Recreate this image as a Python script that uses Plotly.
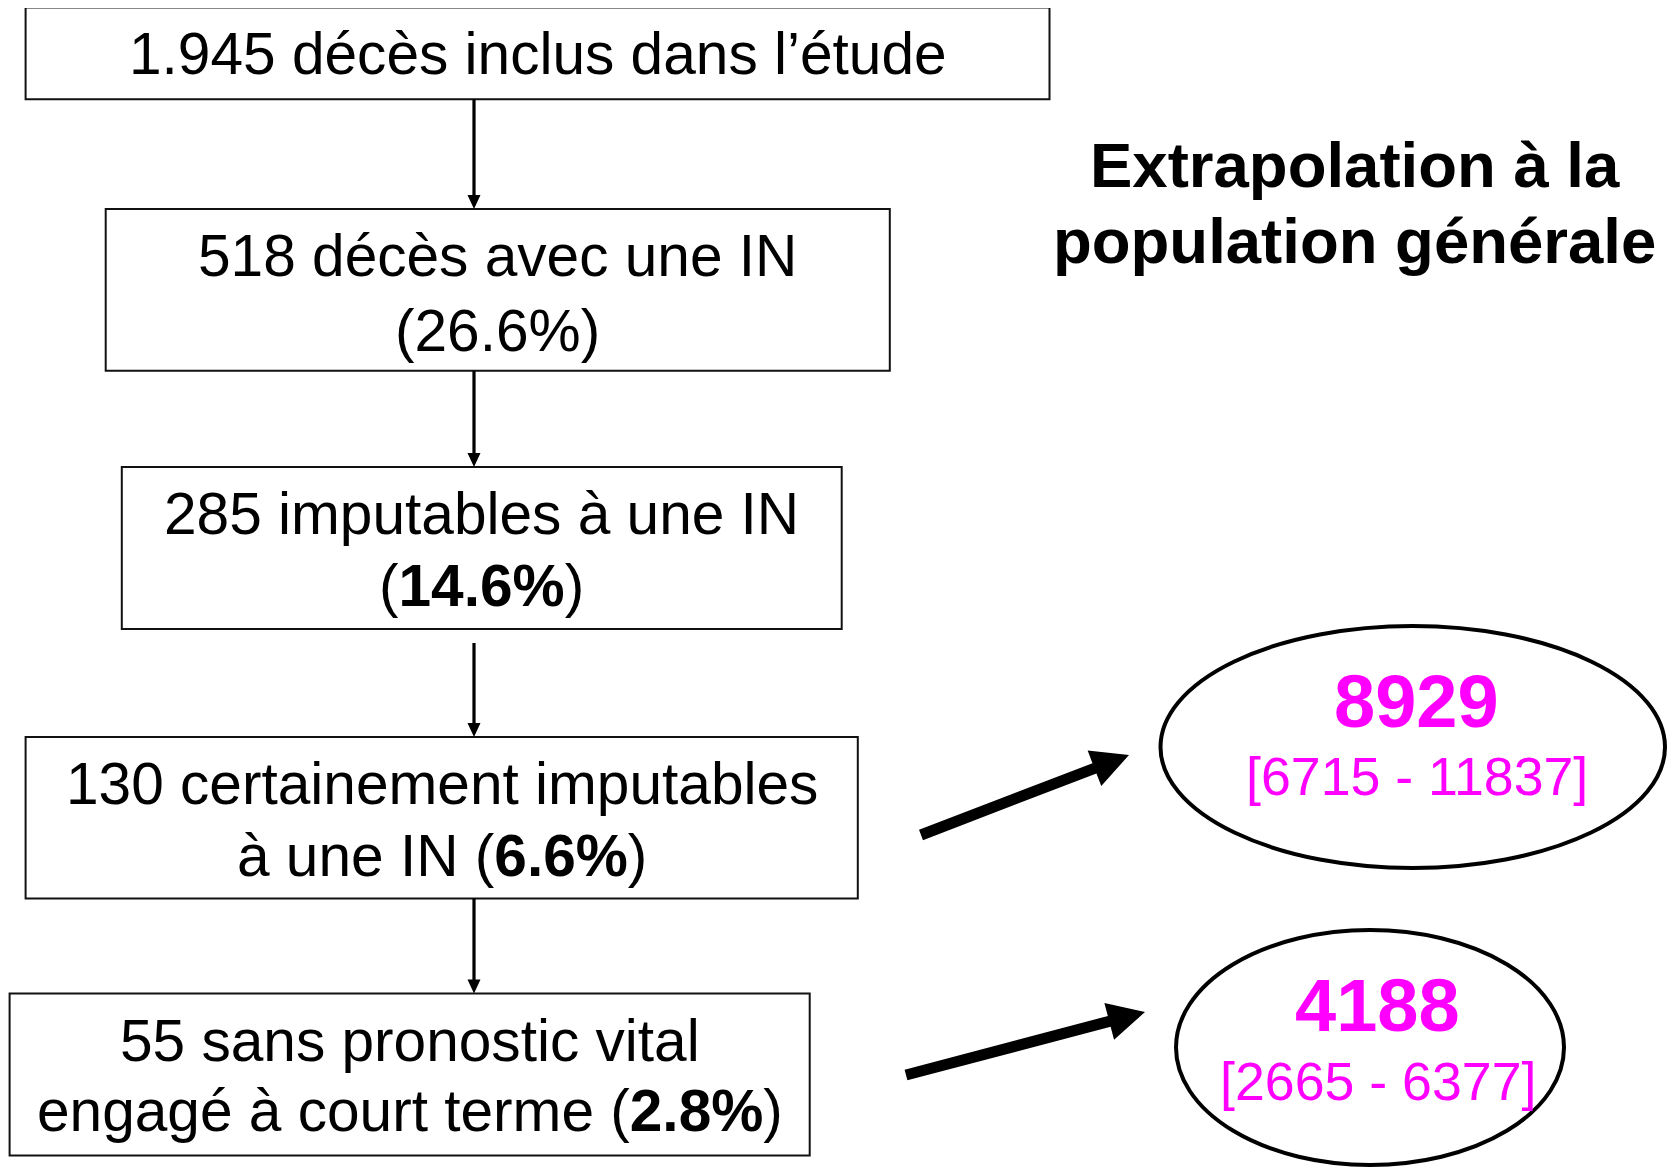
import math
import plotly.graph_objects as go

# ---------------- data ----------------
counts = [1945, 518, 285, 130, 55]
pcts = [None, 26.6, 14.6, 6.6, 2.8]
extrap = [8929, 4188]
ci_low = [6715, 2665]
ci_high = [11837, 6377]
title_lines = ["Extrapolation à la", "population générale"]


def fr(n):
    return f"{n:,}".replace(",", ".")


box_lines = [
    [f"{fr(counts[0])} décès inclus dans l’étude"],
    [f"{counts[1]} décès avec une IN", f"({pcts[1]}%)"],
    [f"{counts[2]} imputables à une IN", f"(<b>{pcts[2]}%</b>)"],
    [f"{counts[3]} certainement imputables", f"à une IN (<b>{pcts[3]}%</b>)"],
    [f"{counts[4]} sans pronostic vital", f"engagé à court terme (<b>{pcts[4]}%</b>)"],
]

# ---------------- layout geometry (page pixels) ----------------
W, H = 1675, 1169
OFF = 8  # browser body margin
boxes = [  # x0, x1, y0, y1
    (25.6, 1049.5, 7.5, 99.3),
    (105.7, 889.8, 209.0, 370.7),
    (121.8, 841.7, 467.0, 629.0),
    (25.6, 857.8, 737.0, 898.5),
    (9.6, 809.7, 993.4, 1155.5),
]
baselines = [[74], [276, 351], [534, 606], [804, 876], [1061, 1131]]
MAIN_FS = 58.6
BIG_FS = 74
CI_FS = 53.7
TITLE_FS = 63.5

ellipses = [(1160.5, 1665, 626, 868), (1176, 1564, 930, 1165)]
ell_text_x = [1416.5, 1377.5]
ell_big_base = [727, 1031]
ell_small_base = [795, 1100]

FONT = "Liberation Sans, Arial, sans-serif"
MAGENTA = "#FF00FF"


def arrow_path(x0, y0, x1, y1, w, L, Hh):
    dx, dy = x1 - x0, y1 - y0
    ln = math.hypot(dx, dy)
    ux, uy = dx / ln, dy / ln
    nx, ny = -uy, ux
    nkx, nky = x1 - ux * L, y1 - uy * L
    pts = [
        (x0 + nx * w / 2, y0 + ny * w / 2),
        (nkx + nx * w / 2, nky + ny * w / 2),
        (nkx + nx * Hh / 2, nky + ny * Hh / 2),
        (x1, y1),
        (nkx - nx * Hh / 2, nky - ny * Hh / 2),
        (nkx - nx * w / 2, nky - ny * w / 2),
        (x0 - nx * w / 2, y0 - ny * w / 2),
    ]
    return "M " + " L ".join(f"{px:.2f},{py:.2f}" for px, py in pts) + " Z"


fig = go.Figure()
shapes = []
annotations = []

# boxes
for (x0, x1, y0, y1) in boxes:
    shapes.append(dict(type="rect", xref="x", yref="y", x0=x0, x1=x1, y0=y0, y1=y1,
                       line=dict(color="#111111", width=2), fillcolor="rgba(0,0,0,0)"))

# box texts
for (x0, x1, y0, y1), lines, bls in zip(boxes, box_lines, baselines):
    cx = (x0 + x1) / 2
    for txt, bl in zip(lines, bls):
        annotations.append(dict(x=cx, y=bl - 0.347 * MAIN_FS, xref="x", yref="y",
                                text=txt, showarrow=False, xanchor="center", yanchor="middle",
                                font=dict(family=FONT, size=MAIN_FS, color="black")))

# thin vertical arrows
AX = 474
thin = [(99.3, 209), (371, 467), (643, 737), (898.5, 993.4)]
for ya, yb in thin:
    shapes.append(dict(type="path", xref="x", yref="y",
                       path=arrow_path(AX, ya, AX, yb, 3.2, 14, 13),
                       fillcolor="black", line=dict(color="black", width=0)))

# thick arrows
thick = [((921, 835), (1129, 755)), ((906, 1075), (1145, 1012))]
for (xa, ya), (xb, yb) in thick:
    shapes.append(dict(type="path", xref="x", yref="y",
                       path=arrow_path(xa, ya, xb, yb, 11, 37, 38),
                       fillcolor="black", line=dict(color="black", width=0)))

# ellipses
for (x0, x1, y0, y1) in ellipses:
    shapes.append(dict(type="circle", xref="x", yref="y", x0=x0, x1=x1, y0=y0, y1=y1,
                       line=dict(color="black", width=4), fillcolor="rgba(0,0,0,0)"))

# ellipse texts
for i in range(2):
    annotations.append(dict(x=ell_text_x[i], y=ell_big_base[i] - 0.347 * BIG_FS, xref="x", yref="y",
                            text=f"<b>{extrap[i]}</b>", showarrow=False,
                            xanchor="center", yanchor="middle",
                            font=dict(family=FONT, size=BIG_FS, color=MAGENTA)))
    annotations.append(dict(x=ell_text_x[i], y=ell_small_base[i] - 0.347 * CI_FS, xref="x", yref="y",
                            text=f"[{ci_low[i]} - {ci_high[i]}]", showarrow=False,
                            xanchor="center", yanchor="middle",
                            font=dict(family=FONT, size=CI_FS, color=MAGENTA)))

# title
title_base = [187, 263]
for txt, bl in zip(title_lines, title_base):
    annotations.append(dict(x=1354.5, y=bl - 0.347 * TITLE_FS, xref="x", yref="y",
                            text=f"<b>{txt}</b>", showarrow=False,
                            xanchor="center", yanchor="middle",
                            font=dict(family=FONT, size=TITLE_FS, color="black")))

fig.update_layout(
    width=W - OFF, height=H - OFF, autosize=False,
    margin=dict(l=0, r=0, t=0, b=0, pad=0),
    paper_bgcolor="white", plot_bgcolor="white",
    xaxis=dict(range=[OFF, W], visible=False, fixedrange=True),
    yaxis=dict(range=[H, OFF], visible=False, fixedrange=True),
    shapes=shapes, annotations=annotations, showlegend=False,
)

fig.write_html("out.html", config={"displayModeBar": False})
